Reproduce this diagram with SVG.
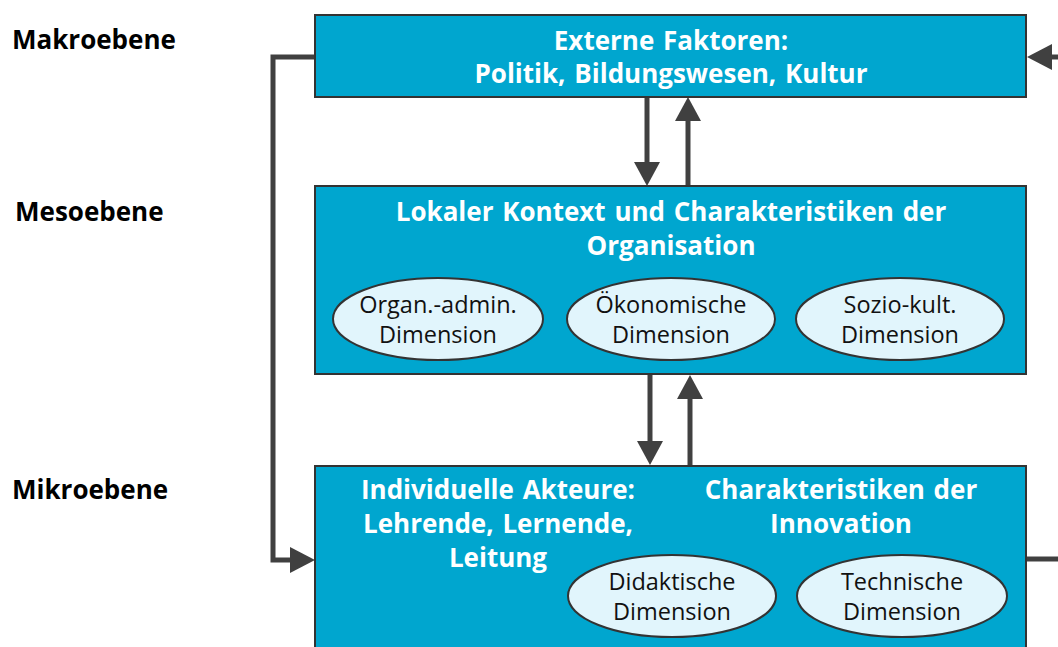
<svg xmlns="http://www.w3.org/2000/svg" width="1058" height="647" viewBox="0 0 1058 647">
<style>
.box{fill:#00A6CF;stroke:#333;stroke-width:2}
.ell{fill:#E1F5FC;stroke:#333;stroke-width:2}
.t{font-family:"Open Sans","Noto Sans",sans-serif;font-weight:bold;font-size:26px;fill:#fff;text-anchor:middle;word-spacing:2px}
.e{font-family:"Open Sans","Noto Sans",sans-serif;font-size:23.5px;fill:#111;text-anchor:middle}
.lvl{font-family:"Open Sans","Noto Sans",sans-serif;font-weight:bold;font-size:26px;fill:#000}
.c{fill:none;stroke:#404040;stroke-width:5}
.h{fill:#404040}
</style>
<rect width="1058" height="647" fill="#fff"/>
<g id="levels">
<text class="lvl" x="12" y="49">Makroebene</text>
<text class="lvl" x="15" y="221">Mesoebene</text>
<text class="lvl" x="12" y="499">Mikroebene</text>
</g>
<g id="connectors">
<polyline class="c" points="315,57 273,57 273,560 292,560"/>
<polygon class="h" points="315,560 290,547 290,573"/>
<line class="c" x1="1058" y1="57" x2="1048" y2="57"/>
<polygon class="h" points="1027,57 1052,44 1052,70"/>
<line class="c" x1="1026" y1="559" x2="1058" y2="559"/>
<line class="c" x1="647" y1="97" x2="647" y2="164"/>
<polygon class="h" points="647,186 634,162 660,162"/>
<line class="c" x1="688" y1="186" x2="688" y2="118"/>
<polygon class="h" points="688,97 675,121 701,121"/>
<line class="c" x1="650" y1="374" x2="650" y2="442"/>
<polygon class="h" points="650,465 637,441 663,441"/>
<line class="c" x1="690" y1="466" x2="690" y2="397"/>
<polygon class="h" points="690,375 677,399 703,399"/>
</g>
<g id="makro">
<rect class="box" x="315" y="15" width="711" height="82"/>
<text class="t" x="671" y="50">Externe Faktoren:</text>
<text class="t" x="671" y="83">Politik, Bildungswesen, Kultur</text>
</g>
<g id="meso">
<rect class="box" x="315" y="186" width="711" height="188"/>
<text class="t" x="671" y="221">Lokaler Kontext und Charakteristiken der</text>
<text class="t" x="671" y="255">Organisation</text>
</g>
<g id="organ">
<ellipse class="ell" cx="438" cy="319" rx="105" ry="41"/>
<text class="e" x="438" y="313">Organ.-admin.</text>
<text class="e" x="438" y="343">Dimension</text>
</g>
<g id="oekonom">
<ellipse class="ell" cx="671" cy="319" rx="104" ry="41"/>
<text class="e" x="671" y="313">Ökonomische</text>
<text class="e" x="671" y="343">Dimension</text>
</g>
<g id="sozio">
<ellipse class="ell" cx="900" cy="319" rx="104" ry="41"/>
<text class="e" x="900" y="313">Sozio-kult.</text>
<text class="e" x="900" y="343">Dimension</text>
</g>
<g id="mikro">
<rect class="box" x="315" y="466" width="711" height="200"/>
<text class="t" x="498" y="499">Individuelle Akteure:</text>
<text class="t" x="498" y="533">Lehrende, Lernende,</text>
<text class="t" x="498" y="567">Leitung</text>
<text class="t" x="841" y="499">Charakteristiken der</text>
<text class="t" x="841" y="533">Innovation</text>
</g>
<g id="didaktik">
<ellipse class="ell" cx="672" cy="596" rx="104" ry="41"/>
<text class="e" x="672" y="590">Didaktische</text>
<text class="e" x="672" y="620">Dimension</text>
</g>
<g id="technik">
<ellipse class="ell" cx="902" cy="596" rx="105" ry="41"/>
<text class="e" x="902" y="590">Technische</text>
<text class="e" x="902" y="620">Dimension</text>
</g>
</svg>
